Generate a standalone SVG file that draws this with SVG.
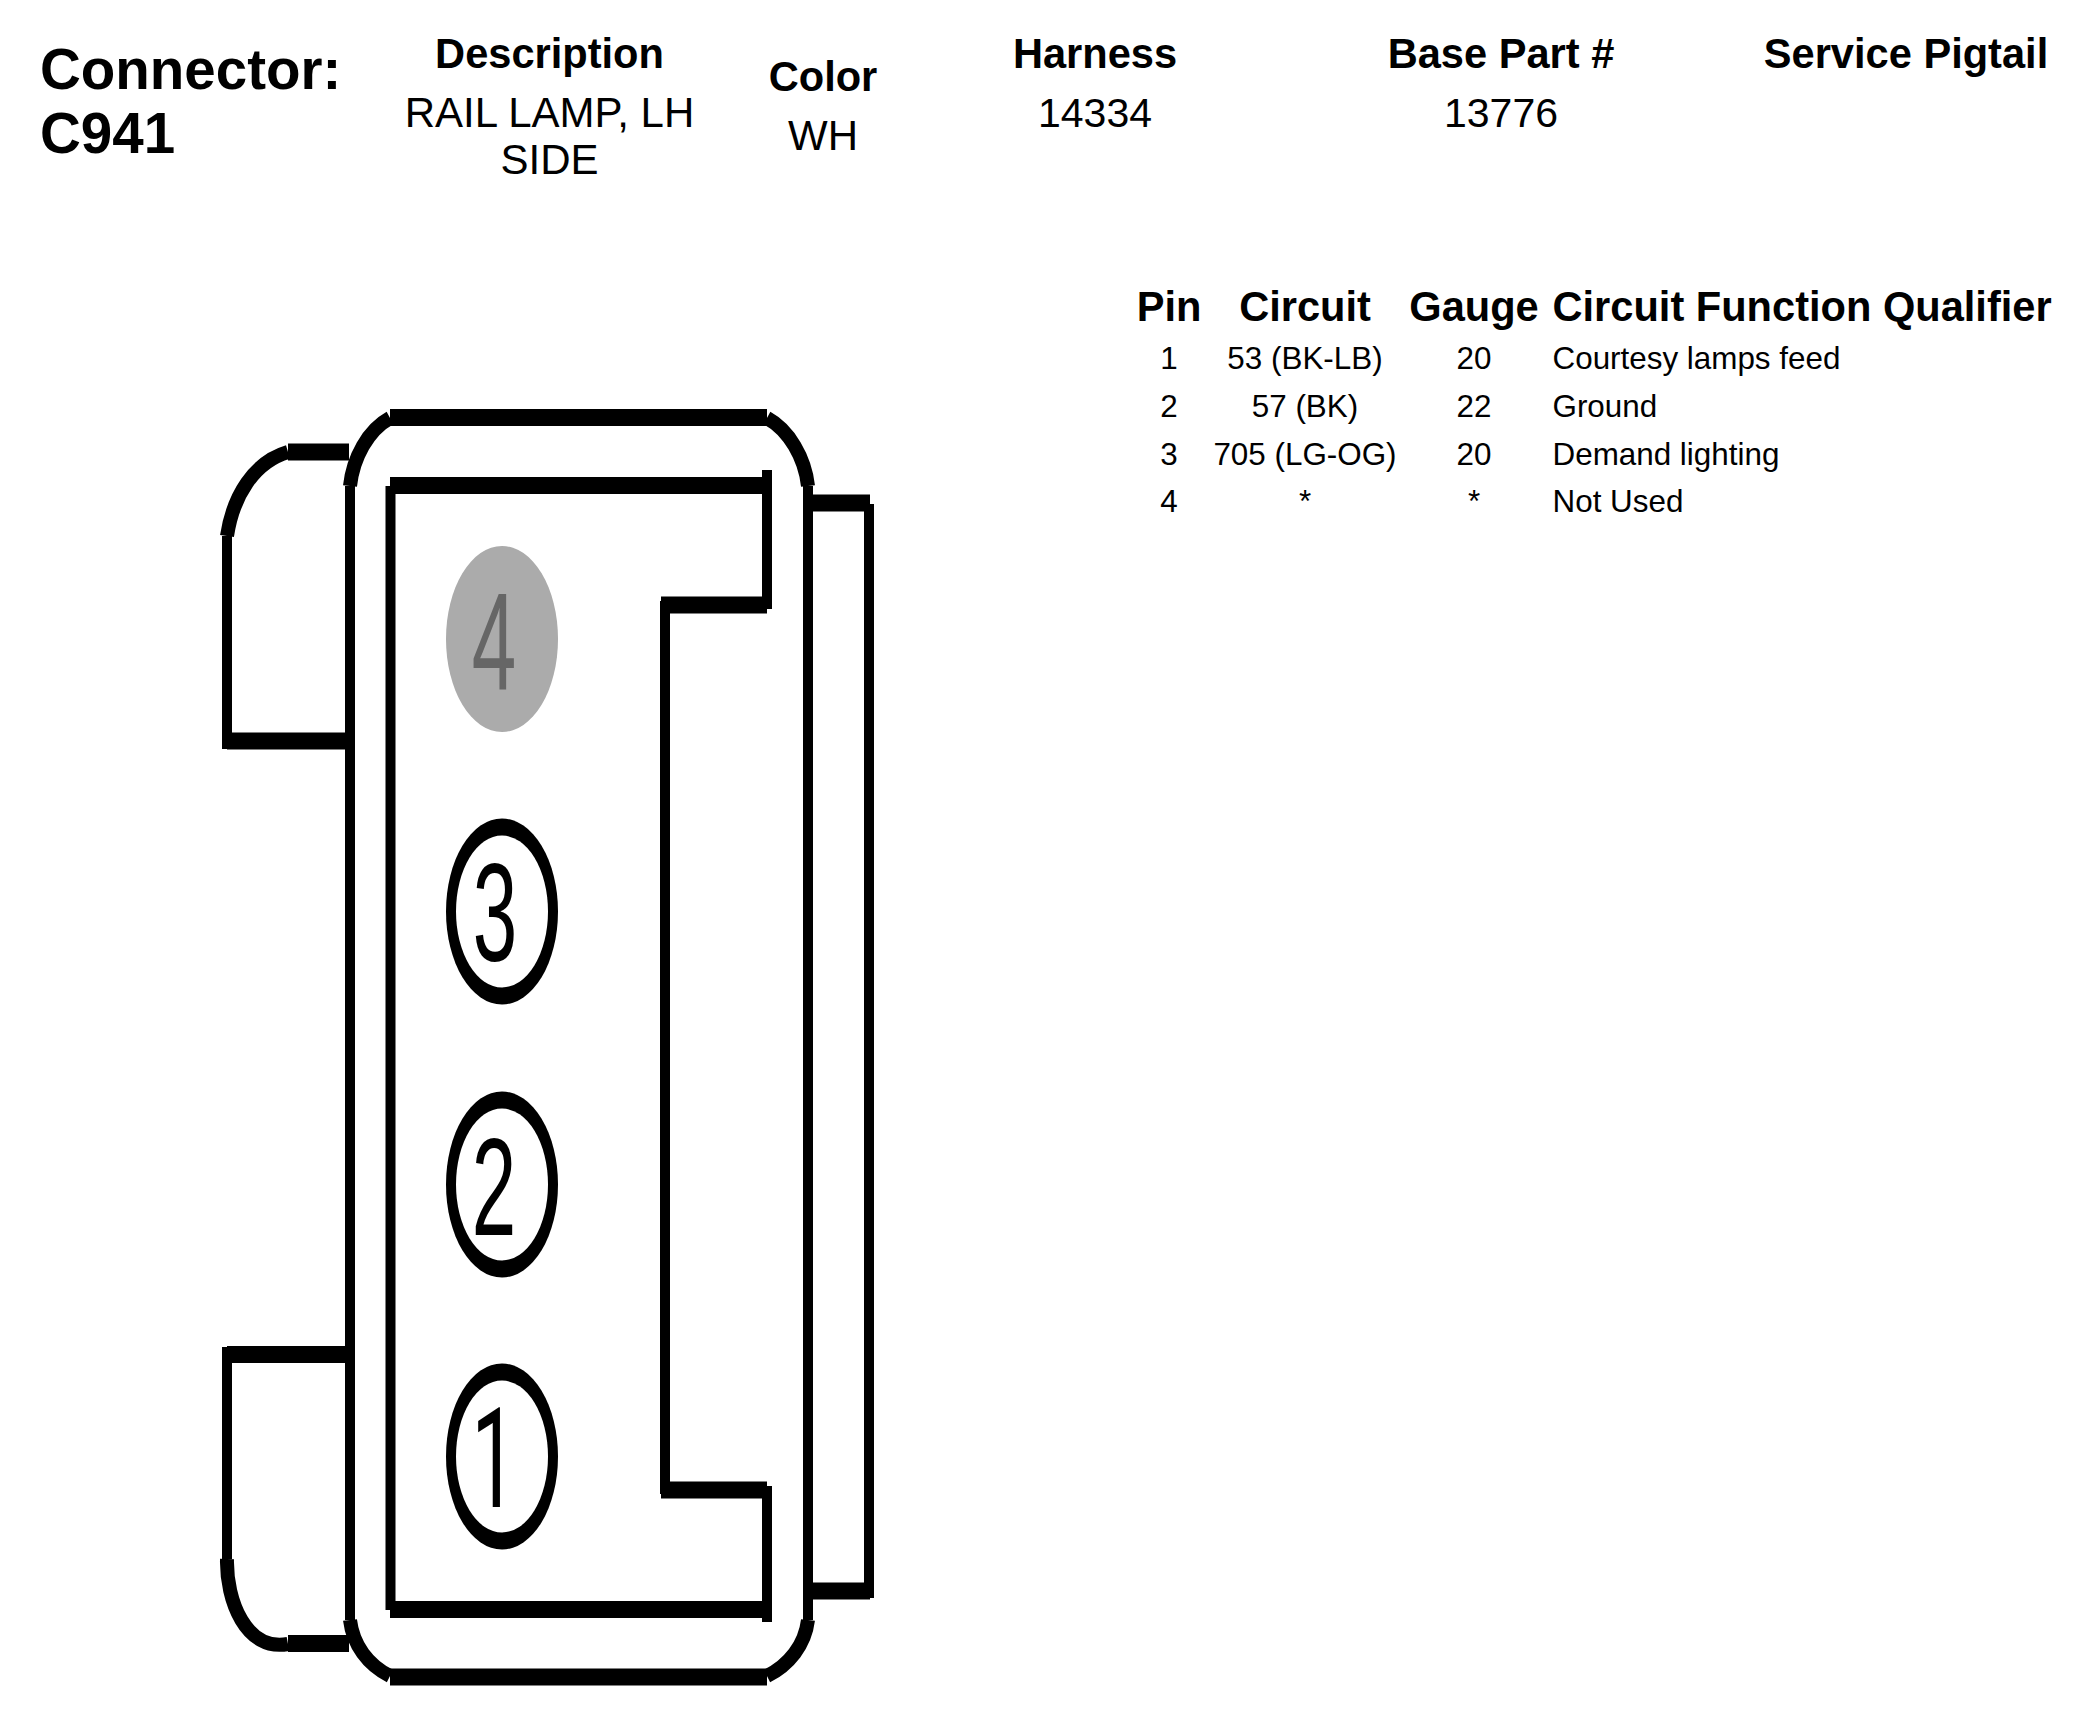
<svg xmlns="http://www.w3.org/2000/svg" width="2080" height="1732" viewBox="0 0 2080 1732">
<style>
text{font-family:"Liberation Sans",Arial,sans-serif;fill:#000}
.h{font-size:41.600px;font-weight:700}
.v{font-size:42px}
.u{font-size:41px}
.r{font-size:31.400px}
.m{text-anchor:middle}
.big{font-size:56.500px;font-weight:700}
.d{font-size:80px;text-anchor:middle}
.l{fill:none;stroke:#000;stroke-linecap:butt;stroke-linejoin:miter}
.t{stroke-width:17}
.n{stroke-width:10}
.c{stroke-width:14}
</style>
<rect width="2080" height="1732" fill="#fff"/>
<g id="title"><text class="big" x="40" y="89">Connector:</text><text class="big" x="40" y="153">C941</text></g>
<g id="description"><text class="h m" x="549.500" y="68">Description</text><text class="v m" x="549.500" y="127">RAIL LAMP, LH</text><text class="v m" x="549.500" y="174">SIDE</text></g>
<g id="color"><text class="h m" x="823" y="91">Color</text><text class="v m" x="823" y="150">WH</text></g>
<g id="harness"><text class="h m" x="1095" y="68">Harness</text><text class="u m" x="1095" y="127">14334</text></g>
<g id="base-part"><text class="h m" x="1501" y="68">Base Part #</text><text class="u m" x="1501" y="127">13776</text></g>
<g id="service-pigtail"><text class="h m" x="1906" y="68">Service Pigtail</text></g>
<g id="pin-table">
<text class="h m" x="1169" y="321">Pin</text><text class="h m" x="1305" y="321">Circuit</text><text class="h m" x="1474" y="321">Gauge</text><text class="h" x="1552.500" y="321">Circuit Function Qualifier</text>
<text class="r m" x="1169" y="369">1</text><text class="r m" x="1305" y="369">53 (BK-LB)</text><text class="r m" x="1474" y="369">20</text><text class="r" x="1552.500" y="369">Courtesy lamps feed</text>
<text class="r m" x="1169" y="417">2</text><text class="r m" x="1305" y="417">57 (BK)</text><text class="r m" x="1474" y="417">22</text><text class="r" x="1552.500" y="417">Ground</text>
<text class="r m" x="1169" y="465">3</text><text class="r m" x="1305" y="465">705 (LG-OG)</text><text class="r m" x="1474" y="465">20</text><text class="r" x="1552.500" y="465">Demand lighting</text>
<text class="r m" x="1169" y="512">4</text><text class="r m" x="1305" y="512">*</text><text class="r m" x="1474" y="512">*</text><text class="r" x="1552.500" y="512">Not Used</text>
</g>
<g id="connector-body">
<path class="l n" d="M350 486V1620M808 486V1620"/>
<path class="l t" d="M390 417.500H767M390 1677H767"/>
<path class="l c" d="M350 486C353 458 368 430 390 418M767 418C789 430 805 458 808 486M350 1620C353 1645 368 1665 390 1676M767 1676C789 1665 805 1645 808 1620"/>
<path class="l n" d="M390.500 486V1610M665 601V1494M767 470V609M767 1486V1622"/>
<path class="l t" d="M390 485.500H772M661 605H767M661 1490H767M390 1609.500H772"/>
</g>
<g id="latch-right">
<path class="l t" d="M812 503H870M812 1591H870"/>
<path class="l n" d="M869 504V1598"/>
</g>
<g id="latch-top-left">
<path class="l t" d="M288 452H349M227 741H352"/>
<path class="l n" d="M227 536V749"/>
<path class="l c" d="M227 536C233 496 254 462 288 452"/>
</g>
<g id="latch-bottom-left">
<path class="l t" d="M227 1354.500H352M288 1643.500H349"/>
<path class="l n" d="M227 1347V1559"/>
<path class="l c" d="M227 1559C226 1600 246 1652 288 1644"/>
</g>
<g id="pin-4"><ellipse cx="502" cy="639" rx="56" ry="93" fill="#ababab"/><text class="d" style="fill:#666" transform="translate(494,690) scale(1,1.75)">4</text></g>
<g id="pin-3"><ellipse cx="502" cy="911.500" rx="56" ry="93" fill="#000"/><ellipse cx="502" cy="911.500" rx="46" ry="76" fill="#fff"/><text class="d" transform="translate(495,961) scale(1,1.75)">3</text></g>
<g id="pin-2"><ellipse cx="502" cy="1184.500" rx="56" ry="93" fill="#000"/><ellipse cx="502" cy="1184.500" rx="46" ry="76" fill="#fff"/><text class="d" transform="translate(494,1235) scale(1,1.75)">2</text></g>
<g id="pin-1"><ellipse cx="502" cy="1456.500" rx="56" ry="93" fill="#000"/><ellipse cx="502" cy="1456.500" rx="46" ry="76" fill="#fff"/><text class="d" style="font-family:Roboto,sans-serif" transform="translate(494,1507) scale(1,1.75)">1</text></g>
</svg>
